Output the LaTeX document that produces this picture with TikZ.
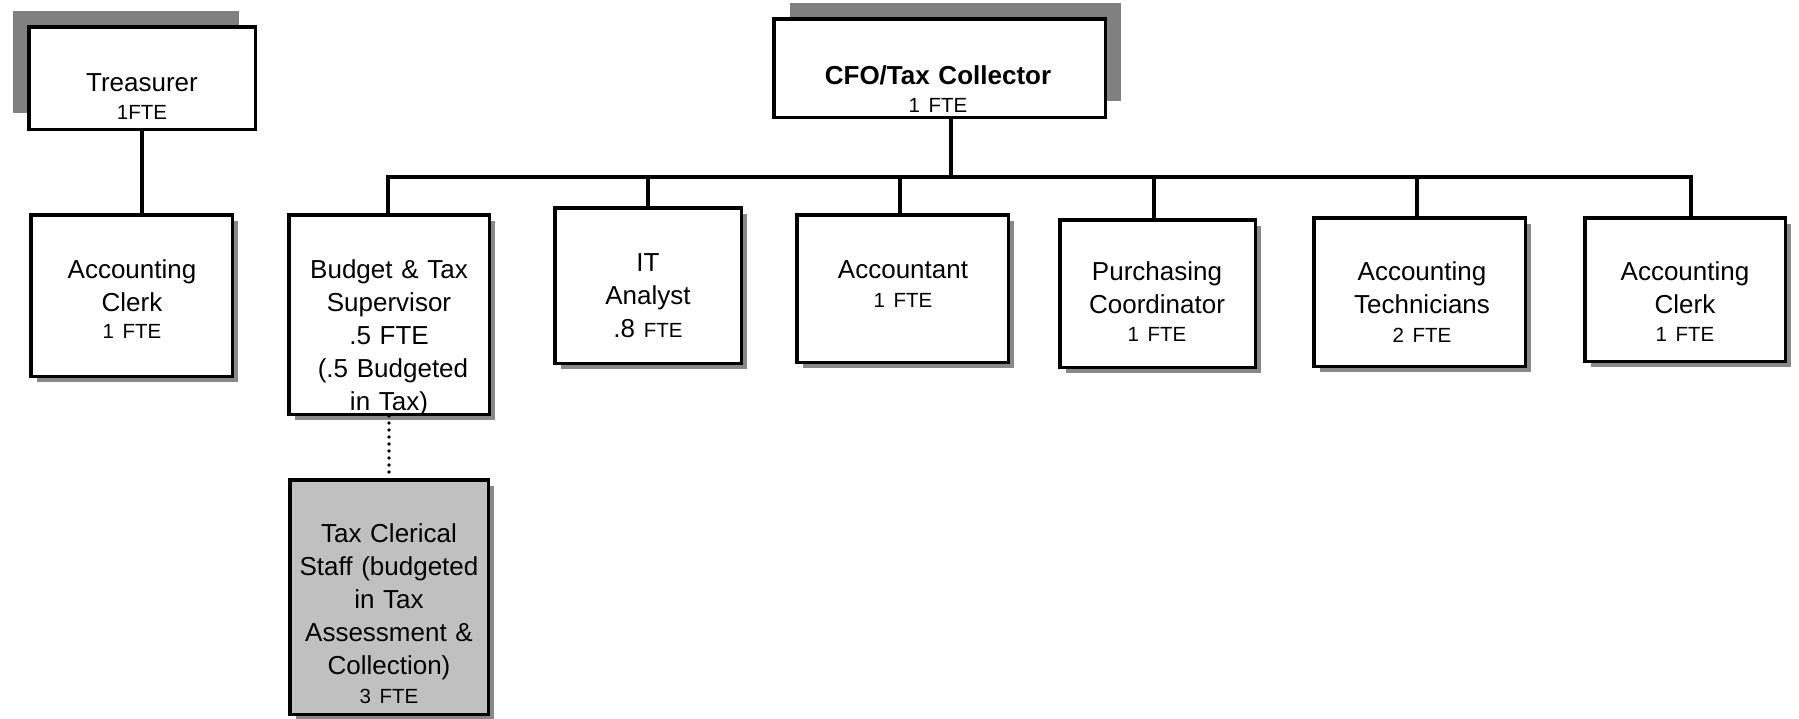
\documentclass[tikz,border=0pt]{standalone}
\usepackage{fontspec}
\setmainfont{Liberation Sans}
\usetikzlibrary{shadows}
\definecolor{shadowtop}{RGB}{128,128,128}
\definecolor{shadowlow}{RGB}{136,136,136}
\definecolor{taxfill}{RGB}{192,192,192}
\newcommand{\sm}{\fontsize{20.5}{24}\selectfont}
\tikzset{
  x=1pt, y=-1pt,
  orgbox/.style={draw=black, line width=3.5pt, fill=white, rectangle, inner sep=0pt},
  lowshadow/.style={general shadow={fill=shadowlow, shadow xshift=6pt, shadow yshift=-6pt}},
  topleftshadow/.style={general shadow={fill=shadowtop, shadow xshift=-16pt, shadow yshift=16pt}},
  toprightshadow/.style={general shadow={fill=shadowtop, shadow xshift=16pt, shadow yshift=16pt}},
  lbl/.style={text width=260pt, align=center, anchor=base, inner sep=0pt,
    font=\fontsize{26}{33}\selectfont},
  conn/.style={line width=3.2pt, draw=black},
  dotline/.style={line width=3.6pt, line cap=round, dash pattern=on 0pt off 7pt}
}
\begin{document}
\begin{tikzpicture}
\useasboundingbox (0,0) rectangle (1799,718);
% boxes
\node[orgbox, topleftshadow, minimum width=226.5pt, minimum height=102.5pt] (tre) at (142,78) {};
\node[orgbox, toprightshadow, minimum width=331.5pt, minimum height=98.5pt] (cfo) at (939.5,68) {};
\node[orgbox, lowshadow, minimum width=201.5pt, minimum height=161.5pt] (lclerk) at (131.5,295.5) {};
\node[orgbox, lowshadow, minimum width=200.5pt, minimum height=199.5pt] (bud) at (389,314.5) {};
\node[orgbox, lowshadow, fill=taxfill, minimum width=198.5pt, minimum height=234.5pt] (tax) at (389,597) {};
\node[orgbox, lowshadow, minimum width=186.5pt, minimum height=155.5pt] (it) at (648,285.5) {};
\node[orgbox, lowshadow, minimum width=211.5pt, minimum height=147.5pt] (acct) at (902.5,288.5) {};
\node[orgbox, lowshadow, minimum width=195.5pt, minimum height=147.5pt] (pur) at (1157.5,293.5) {};
\node[orgbox, lowshadow, minimum width=211.5pt, minimum height=148.5pt] (tech) at (1419.5,292) {};
\node[orgbox, lowshadow, minimum width=200.5pt, minimum height=143.5pt] (rclerk) at (1685,289.5) {};
% texts
\node[lbl] (treT) at (142,91) {Treasurer\\[-5pt]{\sm 1FTE}};
\node[lbl] (cfoT) at (938,84) {{\bfseries CFO/Tax Collector}\\[-5pt]{\sm 1 FTE}};
\node[lbl] (lclerkT) at (132,278) {Accounting\\Clerk\\[-6pt]{\sm 1 FTE}};
\node[lbl] (budT) at (389,278) {Budget \& Tax\\Supervisor\\.5 FTE\\\hspace*{8pt}(.5 Budgeted\\in Tax)};
\node[lbl] (taxT) at (389,542) {Tax Clerical\\Staff (budgeted\\in Tax\\Assessment \&\\Collection)\\[-4pt]{\sm 3 FTE}};
\node[lbl] (itT) at (648,271) {IT\\Analyst\\.8 {\sm FTE}};
\node[lbl] (acctT) at (903,278) {Accountant\\[-4pt]{\sm 1 FTE}};
\node[lbl] (purT) at (1157,280) {Purchasing\\Coordinator\\[-5pt]{\sm 1 FTE}};
\node[lbl] (techT) at (1422,280) {Accounting\\Technicians\\[-4pt]{\sm 2 FTE}};
\node[lbl] (rclerkT) at (1685,280) {Accounting\\Clerk\\[-5pt]{\sm 1 FTE}};
% bus coordinates
\coordinate (bCfo) at (951,177);
\coordinate (bBud) at (388,177);
\coordinate (bIt) at (648,177);
\coordinate (bAcct) at (900,177);
\coordinate (bPur) at (1154,177);
\coordinate (bTech) at (1417,177);
\coordinate (bRcl) at (1691,177);
% connectors
\draw[conn] (tre.south) -- (tre.south |- lclerk.north);
\draw[conn] (bCfo |- cfo.south) -- (bCfo);
\draw[conn] (bBud |- bud.north) -- (bBud) -- (bRcl) -- (bRcl |- rclerk.north);
\draw[conn] (bIt) -- (bIt |- it.north);
\draw[conn] (bAcct) -- (bAcct |- acct.north);
\draw[conn] (bPur) -- (bPur |- pur.north);
\draw[conn] (bTech) -- (bTech |- tech.north);
\draw[dotline] (bud.south) -- (tax.north);
\end{tikzpicture}
\end{document}
